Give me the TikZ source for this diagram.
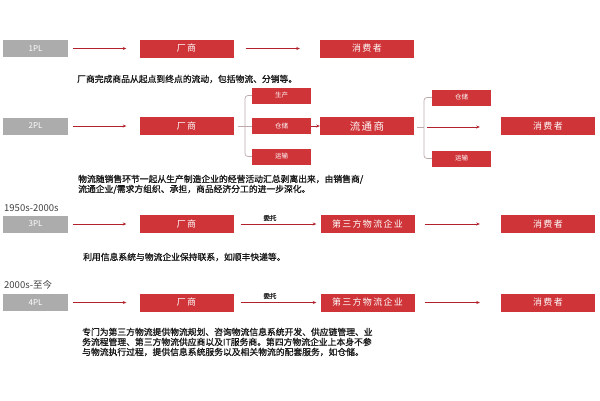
\documentclass[tikz,border=0pt]{standalone}
\usepackage{fontspec}
\setmainfont{Noto Sans CJK SC}
\newfontfamily\boxfont[LetterSpace=14]{Noto Sans CJK SC}
\newfontfamily\lblfont{Noto Sans CJK SC}
\newfontfamily\descfont[FakeBold=1.2]{Noto Sans CJK SC}
\usetikzlibrary{arrows.meta}
\definecolor{boxred}{RGB}{207,52,56}
\definecolor{boxgray}{RGB}{172,172,172}
\definecolor{arrowred}{RGB}{178,34,44}
\definecolor{brkgray}{RGB}{190,170,170}
\tikzset{
  redbox/.style={fill=boxred, text=white, minimum width=94pt, minimum height=18pt, inner sep=0pt,
    font=\boxfont\fontsize{9}{9}\selectfont},
  smallbox/.style={fill=boxred, text=white, minimum width=59pt, minimum height=16pt, inner sep=0pt,
    font=\lblfont\fontsize{6.5}{6.5}\selectfont},
  graybox/.style={fill=boxgray, text=white, minimum width=65pt, minimum height=17pt, inner sep=0pt,
    font=\lblfont\fontsize{8}{8}\selectfont},
  conn/.style={draw=arrowred, line width=0.8pt, -{Stealth[length=3.5pt,width=3pt]}},
  brk/.style={draw=brkgray, line width=0.7pt},
  desc/.style={text=black!90, inner sep=0pt, align=left, font=\descfont\fontsize{8.8}{10}\selectfont},
  era/.style={text=black!75, inner sep=0pt, anchor=west, font=\lblfont\fontsize{9.5}{9.5}\selectfont},
  tag/.style={text=black!85, inner sep=0pt, font=\descfont\fontsize{6.5}{6.5}\selectfont}
}
\begin{document}
\begin{tikzpicture}[x=1pt,y=-1pt]
\useasboundingbox[fill=white] (0,0) rectangle (600,400);

% ---------- 1PL ----------
\node[graybox] (g1) at (35.5,48.5) {1PL};
\node[redbox] (f1) at (186.5,48.5) {厂商};
\node[redbox] (c1) at (367,48.5) {消费者};
\draw[conn, shorten <=5pt, shorten >=13pt] (g1) -- (f1);
\draw[conn, shorten <=12pt, shorten >=20pt] (f1) -- (c1);
\node[desc, anchor=west] (d1) at (77,79) {厂商完成商品从起点到终点的流动，包括物流、分销等。};

% ---------- 2PL ----------
\node[graybox] (g2) at (35.5,126) {2PL};
\node[redbox] (f2) at (186.5,126) {厂商};
\node[smallbox] (s1) at (281.5,95.5) {生产};
\node[smallbox] (s2) at (281.5,126) {仓储};
\node[smallbox] (s3) at (281.5,156.5) {运输};
\node[redbox, font=\boxfont\fontsize{10.5}{10.5}\selectfont] (m2) at (367,126) {流通商};
\node[smallbox] (r1) at (461.5,97.5) {仓储};
\node[smallbox] (r3) at (461.5,158.5) {运输};
\node[redbox] (c2) at (548,126) {消费者};
\coordinate (bL) at (245,126);
\coordinate (bR) at (424,127);
\draw[conn, shorten <=5pt, shorten >=13pt] (g2) -- (f2);
\draw[brk, shorten <=4pt] (f2.east) -- (s2.west);
\draw[brk, rounded corners=3pt] (s1.west) -| (bL) |- (s3.west);
\draw[conn] (s2) -- (m2);
\draw[brk, shorten <=3pt] (m2.east |- bR) -- (bR);
\draw[brk, rounded corners=3pt] (r1.west) -| (bR) |- (r3.west);
\draw[conn, shorten <=3pt, shorten >=21pt] (bR) -- (c2.west |- bR);
\node[desc, anchor=north west] (d2) at (78,174.6) {物流随销售环节一起从生产制造企业的经营活动汇总剥离出来，由销售商/\\流通企业/需求方组织、承担，商品经济分工的进一步深化。};

% ---------- 3PL ----------
\node[era] (e3) at (4,208) {1950s-2000s};
\node[graybox] (g3) at (35.5,224) {3PL};
\node[redbox] (f3) at (186.5,224) {厂商};
\node[redbox] (t3) at (367.5,224) {第三方物流企业};
\node[redbox] (c3) at (548,224) {消费者};
\draw[conn, shorten <=5pt, shorten >=13pt] (g3) -- (f3);
\draw[conn, shorten <=7pt, shorten >=4pt] (f3) -- (t3);
\node[tag] (w3) at (270,218) {委托};
\draw[conn, shorten <=10pt, shorten >=21pt] (t3) -- (c3);
\node[desc, anchor=west] (d3) at (83,257) {利用信息系统与物流企业保持联系，如顺丰快递等。};

% ---------- 4PL ----------
\node[era] (e4) at (4,285) {2000s-至今};
\node[graybox] (g4) at (35.5,302.5) {4PL};
\node[redbox] (f4) at (186.5,302.5) {厂商};
\node[redbox] (t4) at (367.5,302.5) {第三方物流企业};
\node[redbox] (c4) at (548,302.5) {消费者};
\draw[conn, shorten <=5pt, shorten >=13pt] (g4) -- (f4);
\draw[conn, shorten <=7pt, shorten >=4pt] (f4) -- (t4);
\node[tag] (w4) at (270,296) {委托};
\draw[conn, shorten <=10pt, shorten >=21pt] (t4) -- (c4);
\node[desc, anchor=north west] (d4) at (82,327.6) {专门为第三方物流提供物流规划、咨询物流信息系统开发、供应链管理、业\\务流程管理、第三方物流供应商以及IT服务商。第四方物流企业上本身不参\\与物流执行过程，提供信息系统服务以及相关物流的配套服务，如仓储。};
\end{tikzpicture}
\end{document}
